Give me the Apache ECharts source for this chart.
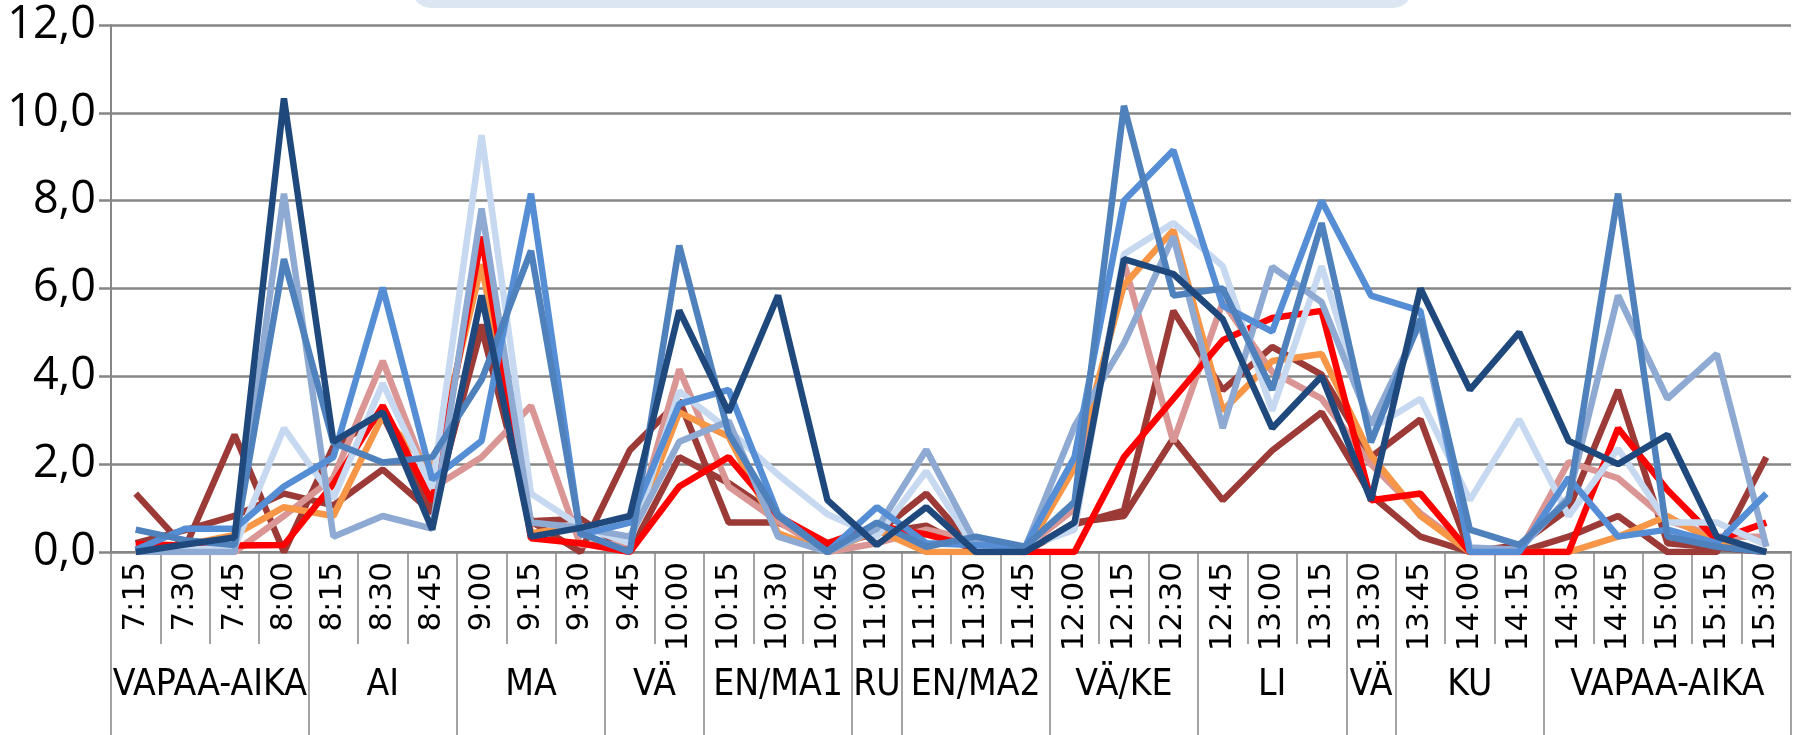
<!DOCTYPE html>
<html lang="fi">
<head>
    <meta charset="UTF-8">
    <title>Tuntijakauma</title>
    <script src="https://cdn.jsdelivr.net/npm/echarts@6/dist/echarts.min.js"></script>
    <style>
        html, body { margin: 0; padding: 0; background: #fff; }
        #chart { width: 1794px; height: 735px; }
    </style>
</head>
<body>
<div id="chart"></div>
<script type="text/javascript">
    // kellonajat (alempi x-akseli)
    const times = ['7:15', '7:30', '7:45', '8:00', '8:15', '8:30', '8:45', '9:00', '9:15', '9:30',
        '9:45', '10:00', '10:15', '10:30', '10:45', '11:00', '11:15', '11:30', '11:45', '12:00',
        '12:15', '12:30', '12:45', '13:00', '13:15', '13:30', '13:45', '14:00', '14:15', '14:30',
        '14:45', '15:00', '15:15', '15:30'];

    // oppiaineet ja montako kellonaikaa kukin kattaa
    const groups = ['VAPAA-AIKA', 'AI', 'MA', 'VÄ', 'EN/MA1', 'RU', 'EN/MA2', 'VÄ/KE', 'LI', 'VÄ', 'KU', 'VAPAA-AIKA'];
    const groupSizes = [4, 3, 3, 2, 3, 1, 3, 3, 3, 1, 3, 5];

    const yTicks = [0, 2, 4, 6, 8, 10, 12];

    const red = [0.18, 0.15, 0.15, 0.16, 1.55, 3.33, 1.15, 7.18, 0.31, 0.2, 0, 1.49, 2.16, 0.82, 0.2, 0.6, 0.4, 0.1, 0, 0,
        2.16, 3.49, 4.82, 5.33, 5.49, 1.18, 1.33, 0, 0, 0, 2.82, 1.41, 0.27, 0.67];
    const darkRed1 = [1.33, 0.1, 2.67, 0, 2.4, 3.1, 0.9, 5.1, 0.7, 0, 2.32, 3.45, 0.67, 0.67, 0.2, 0.43, 1.33, 0.05, 0, 0.63,
        0.94, 5.49, 3.69, 4.67, 4.04, 2.16, 3.02, 0, 0.16, 0.98, 3.69, 0.2, 0.1, 0];
    const darkRed2 = [0.2, 0.5, 0.82, 1.33, 1.06, 1.88, 0.9, 5.18, 0.7, 0.76, 0, 2.16, 1.57, 0.82, 0.12, 0.43, 0.6, 0, 0, 0.67,
        0.82, 2.59, 1.18, 2.31, 3.18, 1.29, 0.35, 0, 0, 0.35, 0.82, 0, 0, 2.16];
    const pink = [0, 0.05, 0, 0.82, 1.69, 4.35, 1.45, 2.16, 3.33, 0.16, 0.2, 4.16, 1.49, 0.7, 0, 0.2, 0.51, 0.27, 0.1, 0.98,
        6.6, 2.51, 5.69, 4.1, 3.49, 2.0, 0.88, 0.05, 0, 2.05, 1.68, 0.72, 0.35, 0.35];
    const orange = [0, 0.16, 0.39, 1.02, 0.82, 3.1, 1.84, 6.55, 0.43, 0.59, 0.27, 3.18, 2.63, 0.43, 0, 0.5, 0, 0, 0, 1.92,
        6.08, 7.33, 3.22, 4.35, 4.51, 2.2, 0.82, 0, 0, 0, 0.35, 0.82, 0.2, 0];
    const lightBlue = [0, 0.05, 0.1, 2.82, 1.22, 3.84, 1.45, 9.49, 1.33, 0.59, 0.2, 3.66, 2.78, 1.76, 0.86, 0.35, 1.84, 0.05, 0.1, 0.51,
        6.78, 7.49, 6.51, 3.22, 6.51, 2.8, 3.49, 1.18, 3.02, 0.82, 2.35, 0.67, 0.67, 0.16];
    const greyBlue = [0, 0, 0, 8.16, 0.35, 0.82, 0.53, 7.82, 0.67, 0.55, 0.35, 2.51, 2.98, 0.35, 0, 0.53, 2.33, 0.2, 0.1, 2.86,
        4.75, 7.18, 2.82, 6.49, 5.69, 2.9, 5.22, 0.1, 0.05, 1.25, 5.84, 3.49, 4.51, 0.12];
    const midBlue = [0.05, 0.53, 0.53, 1.49, 2.16, 6.02, 1.65, 2.53, 8.16, 0.39, 0.67, 3.37, 3.69, 0.86, 0, 1.02, 0.2, 0.16, 0.12, 2.16,
        8.0, 9.15, 5.61, 5.02, 8.0, 5.84, 5.49, 0, 0, 1.69, 0.35, 0.51, 0.2, 1.33];
    const steelBlue = [0.51, 0.27, 0.16, 6.67, 2.49, 2.04, 2.16, 3.92, 6.86, 0.43, 0, 6.98, 2.7, 0.82, 0, 0.67, 0.12, 0.35, 0.12, 1.14,
        10.16, 5.84, 6.0, 3.69, 7.49, 2.5, 5.3, 0.51, 0.16, 1.18, 8.16, 0.35, 0.12, 0];
    const navy = [0, 0.17, 0.33, 10.33, 2.51, 3.18, 0.51, 5.84, 0.35, 0.55, 0.82, 5.5, 3.18, 5.84, 1.18, 0.16, 1.02, 0, 0, 0.67,
        6.67, 6.33, 5.3, 2.82, 4.0, 1.18, 6.0, 3.69, 5.0, 2.53, 2.0, 2.67, 0.35, 0];

    const lines = [
        {data: darkRed1, color: '#9b3a37'},
        {data: darkRed2, color: '#9b3a37'},
        {data: pink, color: '#d99694'},
        {data: orange, color: '#f79646'},
        {data: red, color: '#ff0000'},
        {data: lightBlue, color: '#c6d9f1'},
        {data: greyBlue, color: '#8eaad3'},
        {data: midBlue, color: '#558ed5'},
        {data: steelBlue, color: '#4f81bd'},
        {data: navy, color: '#1f497d'}
    ];

    // ylempi akseli puolikkaina paikkoina: ryhmän nimi keskelle, viiva rajoille
    const halfSlots = new Array(times.length * 2 + 1).fill('');
    const groupEdges = new Set([0]);
    let start = 0;
    groups.forEach((g, i) => {
        halfSlots[2 * start + groupSizes[i]] = g;
        start += groupSizes[i];
        groupEdges.add(2 * start);
    });

    const gridColor = '#868686';
    const chart = echarts.init(document.getElementById('chart'));
    chart.setOption({
        animation: false,
        graphic: [{
            type: 'rect',
            shape: {x: 412, y: -30, width: 1000, height: 38, r: 22},
            style: {fill: '#dce6f2'}
        }],
        grid: {left: 111, right: 0, top: 25, bottom: 183},
        xAxis: [{
            type: 'category',
            data: times,
            boundaryGap: true,
            axisLine: {lineStyle: {color: gridColor, width: 2}},
            axisTick: {show: true, interval: 0, length: 92, lineStyle: {color: gridColor, width: 1.5}},
            axisLabel: {
                interval: 0, rotate: 90, margin: 10, color: '#000',
                fontSize: 31, fontFamily: '"DejaVu Sans", sans-serif'
            }
        }, {
            type: 'category',
            data: halfSlots,
            boundaryGap: false,
            position: 'bottom',
            axisLine: {show: false},
            axisTick: {
                show: true, length: 184,
                interval: (index) => groupEdges.has(index),
                lineStyle: {color: gridColor, width: 1.5}
            },
            axisLabel: {
                interval: 0, margin: 114, color: '#000',
                fontSize: 37, lineHeight: 38,
                fontFamily: '"Liberation Sans Narrow", "DejaVu Sans Condensed", "Open Sans", sans-serif'
            }
        }],
        yAxis: {
            type: 'value',
            min: yTicks[0],
            max: yTicks[yTicks.length - 1],
            interval: yTicks[1] - yTicks[0],
            axisLine: {show: true, lineStyle: {color: gridColor, width: 2}},
            axisTick: {show: true, length: 12, lineStyle: {color: gridColor, width: 2.5}},
            splitLine: {lineStyle: {color: gridColor, width: 2.5}},
            axisLabel: {
                margin: 15, color: '#000', fontSize: 45,
                fontFamily: '"Open Sans", sans-serif',
                formatter: v => v.toFixed(1).replace('.', ',')
            }
        },
        series: lines.map(l => ({
            type: 'line',
            data: l.data,
            symbol: 'none',
            lineStyle: {color: l.color, width: 6.5},
            itemStyle: {color: l.color}
        }))
    });
</script>
</body>
</html>
